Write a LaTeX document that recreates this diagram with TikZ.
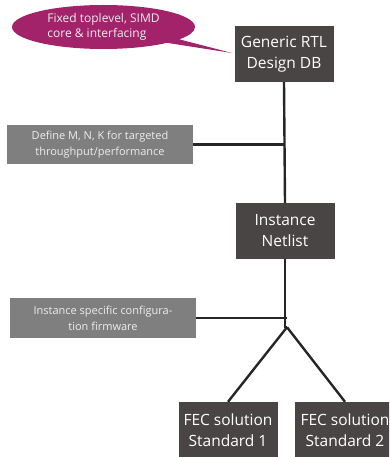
\documentclass[tikz,border=0pt]{standalone}
\usepackage{fontspec}
\setmainfont{Open Sans}
\usetikzlibrary{calc,shapes.callouts}
\definecolor{boxdark}{HTML}{4A4545}
\definecolor{boxgrey}{HTML}{807F7F}
\definecolor{boxtext}{HTML}{EDEDED}
\definecolor{bubble}{HTML}{A3236B}

\begin{document}
\begin{tikzpicture}[x=1pt,y=-1pt,
    darkbox/.style={fill=boxdark, text=white, minimum width=99pt,
        minimum height=56pt, inner sep=0pt, align=center,
        font=\fontsize{15.5}{21}\selectfont},
    greybox/.style={fill=boxgrey, text=boxtext, minimum width=186pt,
        minimum height=40pt, inner sep=0pt, align=center,
        font=\fontsize{11}{16}\selectfont},
    link/.style={line width=2.4pt, black!85}]
    \useasboundingbox (0,0) rectangle (389,457);
    \clip (0,0) rectangle (389,457);

    \node[darkbox] (rtl) at (284,54) {Generic RTL\\Design DB};
    \node[darkbox] (netlist) at (285,231) {Instance\\Netlist};
    \node[greybox, minimum height=39pt] (mnk) at (100,144.5)
        {Define M, N, K for targeted\\throughput/performance};
    \node[greybox] (fw) at (103,318)
        {Instance specific configura-\\tion firmware};
    \node[darkbox] (fec1) at (228,430) {FEC solution\\Standard 1};
    \node[darkbox, minimum width=100pt] (fec2) at (345,430)
        {FEC solution\\Standard 2};

    \node[ellipse callout, fill=bubble, text=boxtext,
        minimum width=183pt, minimum height=44pt, inner sep=0pt,
        callout absolute pointer={(232,53)}, callout pointer arc=12,
        font=\fontsize{12}{15}\selectfont, align=left] (fixed) at (103.5,27)
        {Fixed toplevel, SIMD\hspace{14pt}\\core \& interfacing};

    \coordinate (split) at ($(netlist.south)+(2,68)$);
    \draw[link] (rtl.south) -- (netlist.north);
    \draw[link] (mnk.east) -- (mnk.east -| rtl.south);
    \draw[link] (netlist.south) -- (netlist.south |- split) -- (split);
    \draw[link] (fw.east) -- (fw.east -| split);
    \draw[link] (split) -- (fec1.north);
    \draw[link] (split) -- (fec2.north);
\end{tikzpicture}
\end{document}
